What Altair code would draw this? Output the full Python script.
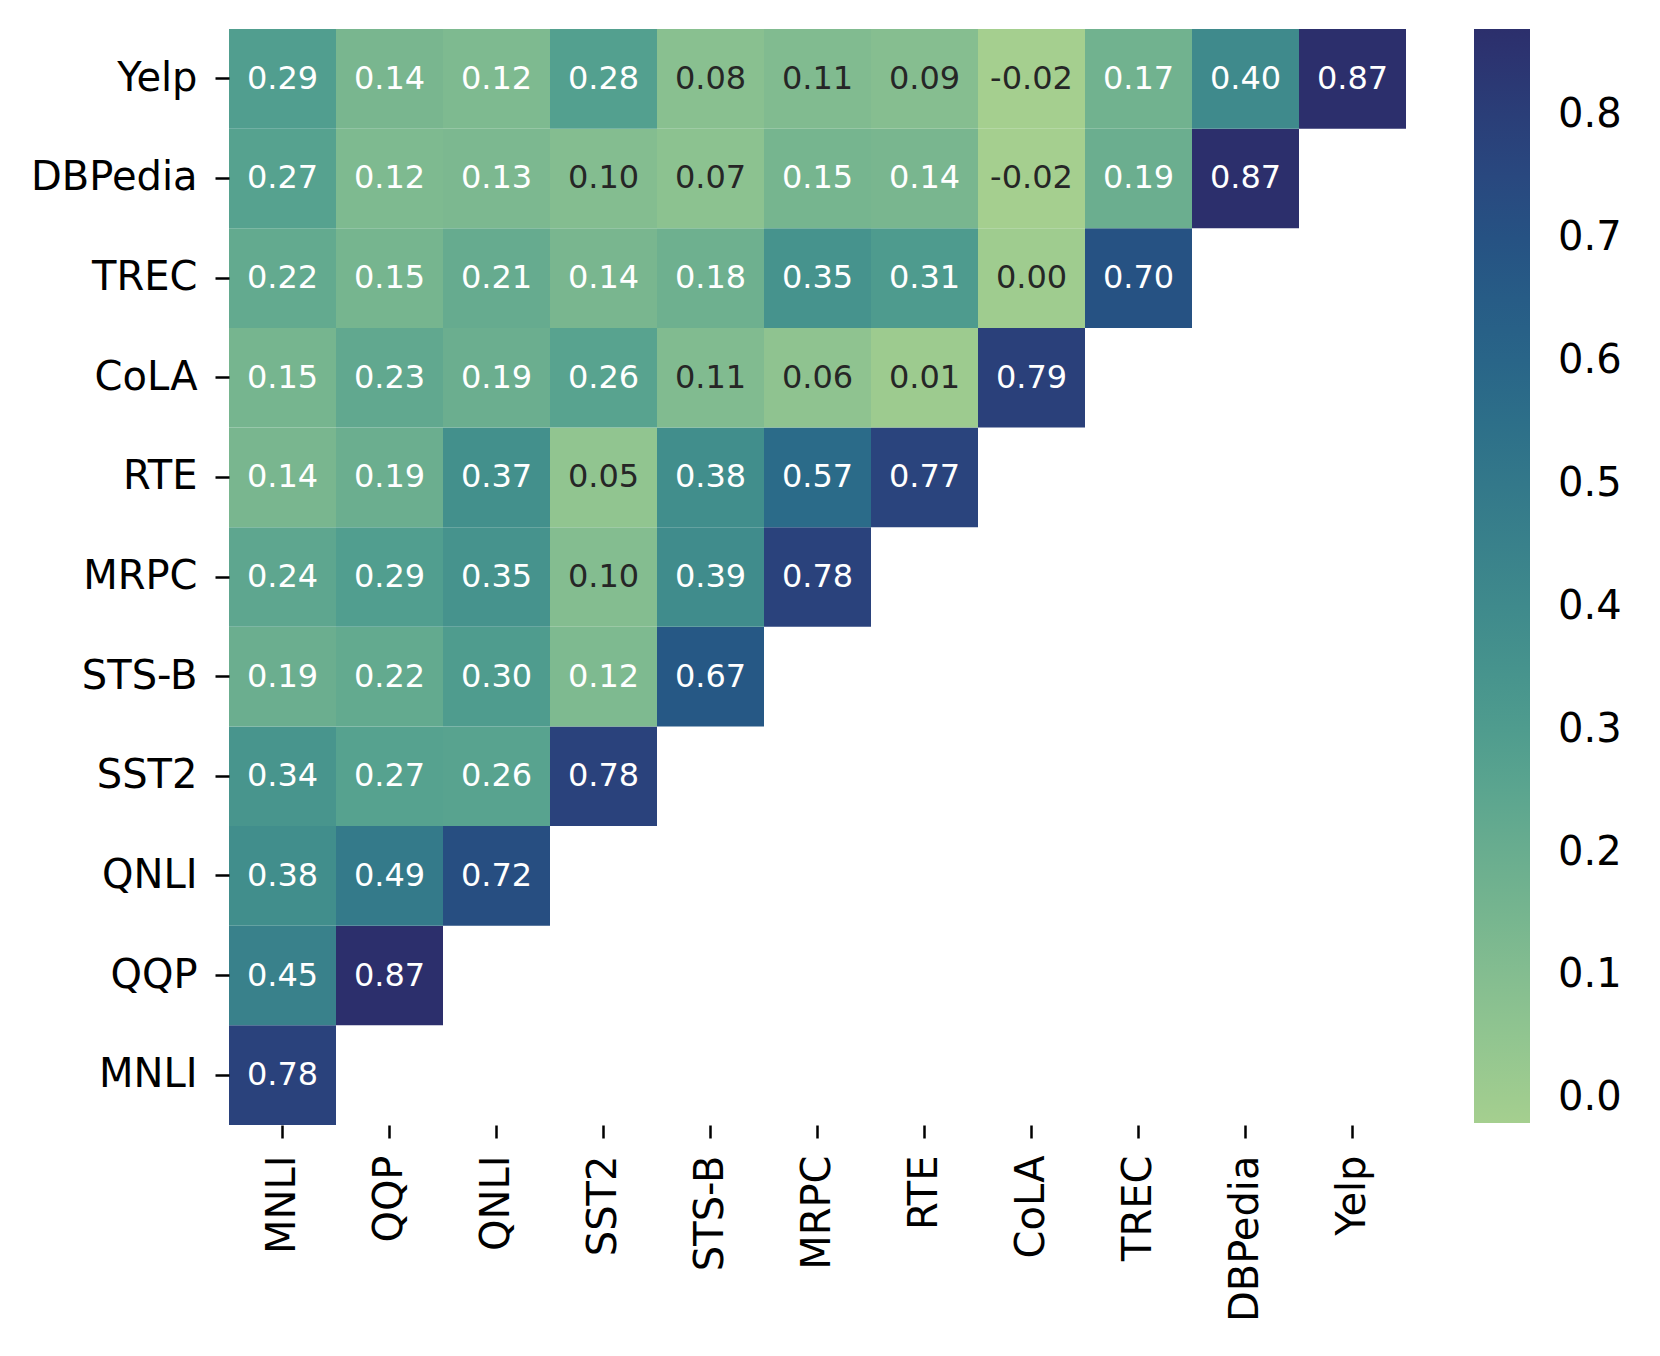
import altair as alt
import pandas as pd

tasks = ["MNLI", "QQP", "QNLI", "SST2", "STS-B", "MRPC", "RTE", "CoLA", "TREC", "DBPedia", "Yelp"]

# row values (row task vs column tasks MNLI..), lower-triangle only
row_MNLI = [0.78]
row_QQP = [0.45, 0.87]
row_QNLI = [0.38, 0.49, 0.72]
row_SST2 = [0.34, 0.27, 0.26, 0.78]
row_STSB = [0.19, 0.22, 0.30, 0.12, 0.67]
row_MRPC = [0.24, 0.29, 0.35, 0.10, 0.39, 0.78]
row_RTE = [0.14, 0.19, 0.37, 0.05, 0.38, 0.57, 0.77]
row_CoLA = [0.15, 0.23, 0.19, 0.26, 0.11, 0.06, 0.01, 0.79]
row_TREC = [0.22, 0.15, 0.21, 0.14, 0.18, 0.35, 0.31, 0.00, 0.70]
row_DBPedia = [0.27, 0.12, 0.13, 0.10, 0.07, 0.15, 0.14, -0.02, 0.19, 0.87]
row_Yelp = [0.29, 0.14, 0.12, 0.28, 0.08, 0.11, 0.09, -0.02, 0.17, 0.40, 0.87]

rows = [row_MNLI, row_QQP, row_QNLI, row_SST2, row_STSB, row_MRPC,
        row_RTE, row_CoLA, row_TREC, row_DBPedia, row_Yelp]

records = []
for r_task, vals in zip(tasks, rows):
    for c_task, v in zip(tasks, vals):
        records.append({"row": r_task, "col": c_task, "value": v})
df = pd.DataFrame(records)

color_domain = [-0.02, 0.08, 0.18, 0.28, 0.38, 0.48, 0.58, 0.68, 0.78, 0.87]
color_range = ["#a5cf8f", "#89c090", "#6eb08f", "#53a08f", "#418e8c", "#357c8a",
               "#2a6989", "#255685", "#2a427c", "#2c2f6c"]

FONT = "DejaVu Sans"

base = alt.Chart(df).encode(
    x=alt.X("col:N", sort=tasks, title=None,
            scale=alt.Scale(paddingInner=0, paddingOuter=0),
            axis=alt.Axis(labelAngle=-90, labelFont=FONT, labelFontSize=40,
                          labelColor="black", domain=False, ticks=True,
                          tickSize=13, tickWidth=2.5, tickColor="black",
                          labelPadding=17, grid=False)),
    y=alt.Y("row:N", sort=list(reversed(tasks)), title=None,
            scale=alt.Scale(paddingInner=0, paddingOuter=0),
            axis=alt.Axis(labelFont=FONT, labelFontSize=40, labelColor="black",
                          domain=False, ticks=True, tickSize=14, tickWidth=2.5,
                          tickColor="black", labelPadding=18, grid=False)),
)

rects = base.mark_rect(strokeWidth=0).encode(
    color=alt.Color("value:Q",
                    scale=alt.Scale(domain=color_domain, range=color_range,
                                    interpolate="rgb"),
                    legend=alt.Legend(title=None, orient="right", offset=68,
                                      gradientLength=1094, gradientThickness=56,
                                      values=[0.0, 0.1, 0.2, 0.3, 0.4, 0.5, 0.6, 0.7, 0.8],
                                      format=".1f", labelFont=FONT,
                                      labelFontSize=40, labelColor="black",
                                      labelOffset=28, gradientStrokeWidth=0,
                                      direction="vertical"))
)

texts = base.mark_text(font=FONT, fontSize=32).transform_calculate(
    label="replace(format(datum.value, '.2f'), '\u2212', '-')"
).encode(
    text=alt.Text("label:N"),
    color=alt.condition(alt.datum.value < 0.115, alt.value("#262626"), alt.value("white")),
)

chart = alt.layer(rects, texts).properties(
    width=1177, height=1096,
    padding={"left": 22, "top": 21, "right": 5, "bottom": 5},
).configure_view(stroke=None)

chart.save("out.html", embed_options={"renderer": "svg", "actions": False})
